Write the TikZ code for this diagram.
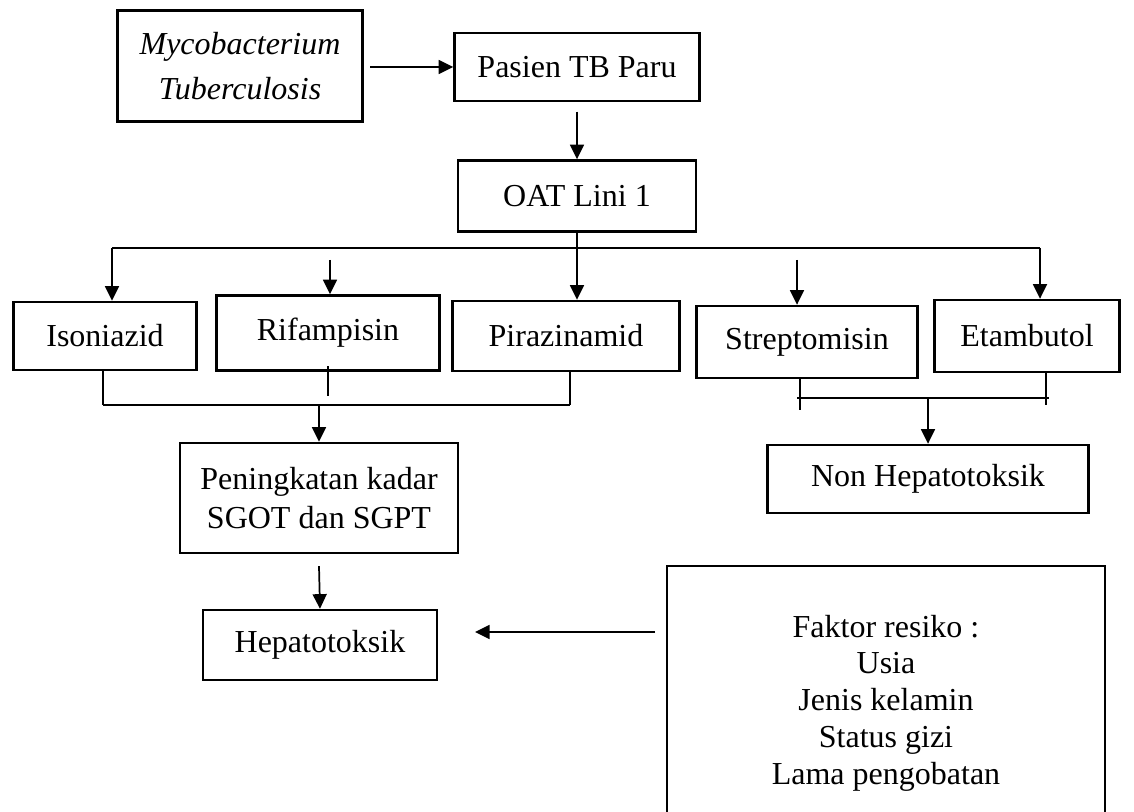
\documentclass[tikz,border=0pt]{standalone}
\usepackage{fontspec}
\setmainfont{Liberation Serif}
\usetikzlibrary{arrows.meta}

\begin{document}
\begin{tikzpicture}[x=0.75pt,y=-0.75pt,
  box/.style={draw,line width=1.8pt,align=center,inner sep=0pt,font=\fontsize{24}{29}\selectfont},
  arr/.style={line width=1.3pt,-{Triangle[length=11pt,width=10.5pt]}},
  bus/.style={line width=0.8pt}]

\useasboundingbox (0,0) rectangle (1134,812);
\clip (0,0) rectangle (1134,812);

%top row
\node[box,minimum width=183.75pt,minimum height=83.25pt,font=\fontsize{24}{34}\selectfont\itshape] (myco) at (240,66) {Mycobacterium\\Tuberculosis};
\node[box,minimum width=183.75pt,minimum height=51pt] (pas) at (577,67) {Pasien TB Paru};
\node[box,minimum width=178.5pt,minimum height=53.25pt] (oat) at (577,196) {OAT Lini 1};

%obat
\node[box,minimum width=137.25pt,minimum height=51pt] (iso) at (105,336) {Isoniazid};
\node[box,minimum width=167.25pt,minimum height=56.25pt] (rif) at (328,333) {Rifampisin};
\node[box,minimum width=170.25pt,minimum height=52.5pt] (pir) at (566,336) {Pirazinamid};
\node[box,minimum width=165.75pt,minimum height=54pt] (str) at (807,342) {Streptomisin};
\node[box,minimum width=138.75pt,minimum height=54pt] (eta) at (1027,336) {Etambutol};

%hasil
\node[box,minimum width=208.5pt,minimum height=82.5pt] (pen) at (319,498) {Peningkatan kadar\\SGOT dan SGPT};
\node[box,minimum width=240.75pt,minimum height=51pt] (non) at (928,479) {Non Hepatotoksik};
\node[box,minimum width=175.5pt,minimum height=52.5pt] (hep) at (320,645) {Hepatotoksik};
\node[box,minimum width=328.5pt,minimum height=205.5pt,font=\fontsize{24}{27.6}\selectfont] (fak) at (886,703) {Faktor resiko :\\Usia\\Jenis kelamin\\Status gizi\\Lama pengobatan};

%myco->pasien->oat
\draw[arr] ([xshift=5pt]myco.east |- pas) -- (pas.west);
\draw[arr] ([yshift=-7pt]pas.south) -- (oat.north);

%oat->obat
\coordinate (t1) at (112,248);
\coordinate (t2) at (330,260);
\coordinate (t4) at (797,260);
\coordinate (t5) at (1040,248);
\draw[bus] (t1) -- (t5);
\draw[bus] (oat.south) -- (oat.south |- t1);
\draw[arr] (t1) -- (t1 |- iso.north);
\draw[arr] (t2) -- (t2 |- rif.north);
\draw[arr] (oat.south |- t1) -- (oat.south |- pir.north);
\draw[arr] (t4) -- (t4 |- str.north);
\draw[arr] (t5) -- (t5 |- eta.north);

%obat->pen
\coordinate (b1) at (103,405);
\coordinate (b2) at (570,405);
\draw[bus] (b1) -- (b2);
\draw[bus] (b1 |- iso.south) -- (b1);
\draw[bus] ([yshift=4pt]rif.south) -- ([yshift=-18pt]rif.south);
\draw[bus] (b2 |- pir.south) -- (b2);
\draw[arr] (pen.north |- b1) -- (pen.north);

%obat->non
\coordinate (c1) at (800,398);
\coordinate (c2) at (1046,398);
\draw[bus] ([xshift=-2pt]c1) -- ([xshift=2pt]c2);
\draw[bus] (c1 |- str.south) -- ([yshift=-9pt]c1);
\draw[bus] (c2 |- eta.south) -- ([yshift=-5pt]c2);
\draw[arr] (non.north |- c1) -- (non.north);

%pen->hep, fak->hep
\draw[arr] ([yshift=-9pt]pen.south) -- (hep.north);
\coordinate (f1) at (655,632);
\coordinate (f2) at (475,632);
\draw[arr] (f1) -- (f2);

\end{tikzpicture}
\end{document}
